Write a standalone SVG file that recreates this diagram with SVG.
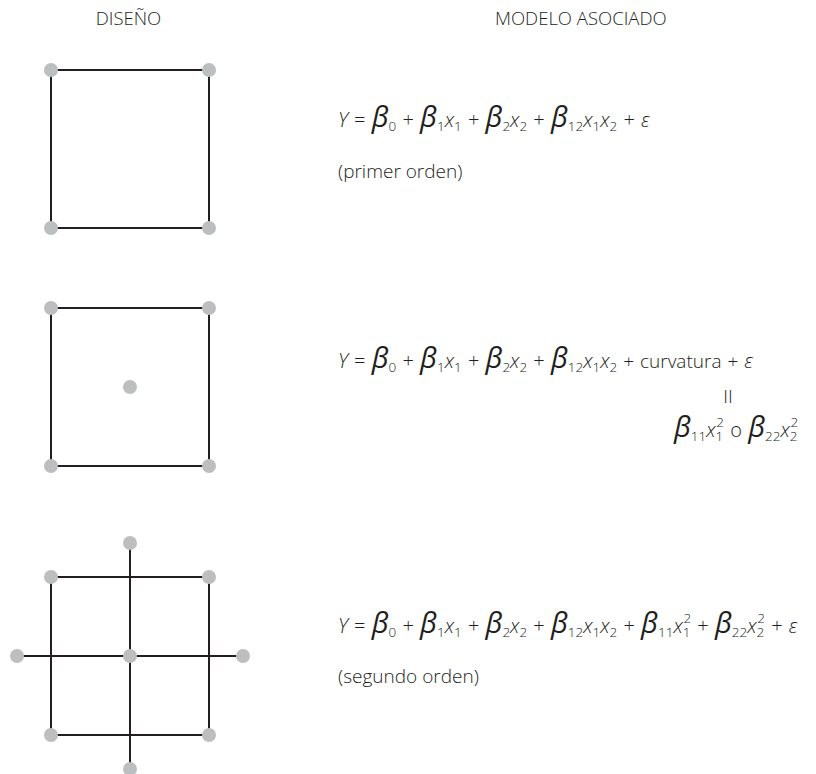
<svg xmlns="http://www.w3.org/2000/svg" width="816" height="774" viewBox="0 0 816 774">
<style>
.t{font-family:"Open Sans","Noto Sans",sans-serif;fill:#231f20;font-size:19px;font-weight:350}
.h{font-family:"Open Sans","Noto Sans",sans-serif;fill:#231f20;font-size:18.5px;font-weight:350}
.eq{font-family:"Open Sans","Noto Sans",sans-serif;fill:#231f20;font-size:20px;font-weight:350;word-spacing:1px}
.i{font-style:italic}
.b{font-style:italic;font-size:29px;font-weight:520}
.s{font-size:13.5px}
.w{font-size:19px}
.ln{stroke:#231f20;stroke-width:2;fill:none}
.dot{fill:#bcbec0}
</style>
<rect width="816" height="774" fill="#fff"/>
<text class="h" x="128.5" y="25" text-anchor="middle">DISEÑO</text>
<text class="h" x="495" y="25">MODELO ASOCIADO</text>

<g id="connectors">
<rect class="ln" x="51" y="70" width="158" height="158"/>
<rect class="ln" x="51" y="308" width="158" height="158"/>
<rect class="ln" x="51" y="577" width="158" height="158"/>
<line class="ln" x1="130" y1="543" x2="130" y2="769"/>
<line class="ln" x1="17" y1="656" x2="243" y2="656"/>
</g>

<g id="design1">
<circle class="dot" cx="51" cy="70" r="7"/><circle class="dot" cx="209" cy="70" r="7"/>
<circle class="dot" cx="51" cy="228" r="7"/><circle class="dot" cx="209" cy="228" r="7"/>
</g>
<g id="design2">
<circle class="dot" cx="51" cy="308" r="7"/><circle class="dot" cx="209" cy="308" r="7"/>
<circle class="dot" cx="51" cy="466" r="7"/><circle class="dot" cx="209" cy="466" r="7"/>
<circle class="dot" cx="130" cy="387" r="7"/>
</g>
<g id="design3">
<circle class="dot" cx="51" cy="577" r="7"/><circle class="dot" cx="209" cy="577" r="7"/>
<circle class="dot" cx="51" cy="735" r="7"/><circle class="dot" cx="209" cy="735" r="7"/>
<circle class="dot" cx="130" cy="656" r="7"/>
<circle class="dot" cx="130" cy="543" r="7"/><circle class="dot" cx="130" cy="769" r="7"/>
<circle class="dot" cx="17" cy="656" r="7"/><circle class="dot" cx="243" cy="656" r="7"/>
</g>

<g id="model1">
<text class="eq" x="338" y="127"><tspan class="i">Y</tspan> = <tspan class="b">β</tspan><tspan class="s" dy="4">0</tspan><tspan dy="-4"> + </tspan><tspan class="b">β</tspan><tspan class="s" dy="4">1</tspan><tspan class="i" dy="-4">x</tspan><tspan class="s" dy="4">1</tspan><tspan dy="-4"> + </tspan><tspan class="b">β</tspan><tspan class="s" dy="4">2</tspan><tspan class="i" dy="-4">x</tspan><tspan class="s" dy="4">2</tspan><tspan dy="-4"> + </tspan><tspan class="b">β</tspan><tspan class="s" dy="4">12</tspan><tspan class="i" dy="-4">x</tspan><tspan class="s" dy="4">1</tspan><tspan class="i" dy="-4">x</tspan><tspan class="s" dy="4">2</tspan><tspan dy="-4"> + </tspan><tspan class="i">ε</tspan></text>
<text class="t" x="338" y="178">(primer orden)</text>
</g>

<g id="model2">
<text class="eq" x="338" y="368"><tspan class="i">Y</tspan> = <tspan class="b">β</tspan><tspan class="s" dy="4">0</tspan><tspan dy="-4"> + </tspan><tspan class="b">β</tspan><tspan class="s" dy="4">1</tspan><tspan class="i" dy="-4">x</tspan><tspan class="s" dy="4">1</tspan><tspan dy="-4"> + </tspan><tspan class="b">β</tspan><tspan class="s" dy="4">2</tspan><tspan class="i" dy="-4">x</tspan><tspan class="s" dy="4">2</tspan><tspan dy="-4"> + </tspan><tspan class="b">β</tspan><tspan class="s" dy="4">12</tspan><tspan class="i" dy="-4">x</tspan><tspan class="s" dy="4">1</tspan><tspan class="i" dy="-4">x</tspan><tspan class="s" dy="4">2</tspan><tspan class="w" dy="-4"> + curvatura + </tspan><tspan class="i">ε</tspan></text>
<text class="t" x="728" y="403" text-anchor="middle" font-size="14">II</text>
<text class="eq" x="674" y="437"><tspan class="b">β</tspan><tspan class="s" dy="4">11</tspan><tspan class="i" dy="-4">x</tspan><tspan class="s" dy="4">1</tspan><tspan class="s" dx="-7" dy="-14">2</tspan><tspan dy="10"> o </tspan><tspan class="b">β</tspan><tspan class="s" dy="4">22</tspan><tspan class="i" dy="-4">x</tspan><tspan class="s" dy="4">2</tspan><tspan class="s" dx="-7" dy="-14">2</tspan></text>
</g>

<g id="model3">
<text class="eq" x="338" y="633"><tspan class="i">Y</tspan> = <tspan class="b">β</tspan><tspan class="s" dy="4">0</tspan><tspan dy="-4"> + </tspan><tspan class="b">β</tspan><tspan class="s" dy="4">1</tspan><tspan class="i" dy="-4">x</tspan><tspan class="s" dy="4">1</tspan><tspan dy="-4"> + </tspan><tspan class="b">β</tspan><tspan class="s" dy="4">2</tspan><tspan class="i" dy="-4">x</tspan><tspan class="s" dy="4">2</tspan><tspan dy="-4"> + </tspan><tspan class="b">β</tspan><tspan class="s" dy="4">12</tspan><tspan class="i" dy="-4">x</tspan><tspan class="s" dy="4">1</tspan><tspan class="i" dy="-4">x</tspan><tspan class="s" dy="4">2</tspan><tspan dy="-4"> + </tspan><tspan class="b">β</tspan><tspan class="s" dy="4">11</tspan><tspan class="i" dy="-4">x</tspan><tspan class="s" dy="4">1</tspan><tspan class="s" dx="-7" dy="-14">2</tspan><tspan dy="10"> + </tspan><tspan class="b">β</tspan><tspan class="s" dy="4">22</tspan><tspan class="i" dy="-4">x</tspan><tspan class="s" dy="4">2</tspan><tspan class="s" dx="-7" dy="-14">2</tspan><tspan dy="10"> + </tspan><tspan class="i">ε</tspan></text>
<text class="t" x="338" y="683">(segundo orden)</text>
</g>
</svg>
